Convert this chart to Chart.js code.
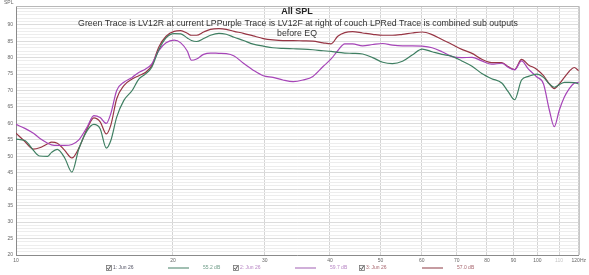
<!DOCTYPE html>
<html>
<head>
<meta charset="utf-8">
<script src="https://cdn.jsdelivr.net/npm/chart.js@4/dist/chart.umd.min.js"></script>
<style>html,body{margin:0;padding:0;background:#fff;}canvas{display:block;}</style>
</head>
<body>
<canvas id="c" width="589" height="275"></canvas>
<script>
// ---- data ----
const freqs = [10.0,10.4,10.8,11.1,11.5,11.7,12.0,12.4,12.8,13.2,13.7,14.1,14.5,14.9,15.2,15.6,16.1,16.7,17.2,17.7,18.2,18.8,19.4,20.1,20.7,21.3,21.7,22.2,22.9,23.6,24.5,25.3,26.2,27.3,28.5,29.8,31.1,32.5,34.0,35.5,37.1,38.8,40.2,41.4,42.7,44.2,46.2,48.3,50.5,52.7,55.1,57.5,60.1,62.8,65.6,68.6,71.6,74.9,78.2,81.7,85.4,88.0,90.4,93.2,96.1,99.6,102.7,105.4,107.7,110.1,112.6,115.0,117.6,120.0];
const greenDb = [55.2,54.8,51.8,50.1,50.0,51.2,52.1,49.5,45.2,52.3,57.9,59.7,58.4,52.5,54.8,61.9,67,70,73.5,75,77,82.5,86,87.3,87.2,86,85.2,84.9,85.8,86.8,87.4,87.1,86.2,85.2,84.1,83.5,83,82.8,82.7,82.6,82.4,82.1,81.9,81.6,81.4,81.3,81.1,80.0,78.6,78.2,78.9,80.8,82.6,81.8,81.0,80.4,79.0,77.4,75.2,73.6,72.3,69.5,67.2,73.2,74.3,75.0,74.0,72.0,71.0,71.8,72.5,72.5,72.4,72.0];
const purpleDb = [59.7,58.5,57,55.5,54,53.5,53.3,53.3,53.6,55,59,62.4,61.8,60,63,70,72.5,74,75.5,76.5,78,82.2,84.5,85.3,84.5,82,79.2,79.6,81,81.4,81.3,81.2,80.5,78.3,76.2,74.5,74.0,73.2,72.7,73.2,74.3,77.3,79.6,82.1,84.2,84.2,83.6,84.0,84.3,83.8,83.6,83.6,83.5,83.0,81.8,80.3,80.0,80.1,79.0,78.0,78.3,77.0,76.3,79.0,76.5,74.2,72,64,59,64,68,70.5,72.2,72.5];
const redDb = [57.0,54.5,52.2,52.6,53.8,54.3,54,51.8,49.5,52.5,58.5,61.7,60.5,56.8,59.5,67.5,71.5,73.5,74.5,75.5,77.5,83.3,86.5,88,88.2,87.4,86.8,86.8,87.8,88.6,88.8,88.6,88,87.4,86.6,85.8,85.4,85.2,85.2,85.1,85.0,84.5,84.2,86.5,87.6,87.9,87.5,87.1,86.8,86.8,87.1,87.5,87.8,87.0,85.5,84,82.5,81.3,79.5,78.5,78.5,77.2,76.4,79.5,77.8,76.5,74.5,72.0,70.6,72.0,74.0,75.8,77.0,76.0];
const xTicks = [10,20,30,40,50,60,70,80,90,100,110,120];
const yTicks = [];
for (let v = 20; v <= 95; v++) yTicks.push(v);
const yLabelStep = 5;
const seriesNames = ['1: Jun 26','2: Jun 26','3: Jun 26'];
const seriesValues = ['55.2 dB','59.7 dB','57.0 dB'];
const titleText = 'All SPL';
const subtitleLines = ['Green Trace is LV12R at current LPPurple Trace is LV12F at right of couch LPRed Trace is combined sub outputs','before EQ'];

// ---- styles ----
const FONT = "'Liberation Sans', Arial, sans-serif";
Chart.defaults.font.family = FONT;
const colors = ['#3f7f62','#a645b8','#973544'];
const legendColors = ['#6f9c88','#b784c4','#a8666f'];

const toPts = arr => freqs.map((f,i)=>({x:f,y:arr[i]}));

const overlay = {
  id:'overlay',
  beforeDatasetsDraw(chart){
    const {ctx, chartArea:a} = chart;
    ctx.save();
    ctx.strokeStyle = '#b8b8b8';
    ctx.lineWidth = 1;
    ctx.beginPath();
    ctx.moveTo(a.left, a.top+0.5); ctx.lineTo(a.right+0.5, a.top+0.5); ctx.lineTo(a.right+0.5, a.bottom);
    ctx.stroke();
    ctx.restore();
  },
  afterDatasetsDraw(chart){
    const {ctx} = chart;
    ctx.save();
    ctx.textAlign = 'center';
    ctx.textBaseline = 'middle';
    ctx.fillStyle = '#222';
    ctx.font = 'bold 9px ' + FONT;
    ctx.fillText(titleText, 297, 12);
    ctx.fillStyle = '#333';
    ctx.font = '8.75px ' + FONT;
    ctx.fillText(subtitleLines[0], 298, 24);
    ctx.fillText(subtitleLines[1], 297, 34);
    ctx.restore();
  },
  afterDraw(chart){
    const {ctx} = chart;
    ctx.save();
    ctx.font = '5px ' + FONT;
    ctx.fillStyle = '#666';
    ctx.textBaseline = 'middle';
    ctx.textAlign = 'left';
    ctx.fillText('SPL', 4, 3);
    const boxX = [106, 233, 359];
    const lineX = [[168,189],[295,316],[422,443]];
    const valX = [203, 330, 457];
    const y = 268;
    for (let i = 0; i < 3; i++) {
      ctx.strokeStyle = '#777';
      ctx.lineWidth = 0.8;
      ctx.fillStyle = '#f4f4f4';
      ctx.fillRect(boxX[i], y-2.5, 5, 5);
      ctx.strokeRect(boxX[i]+0.5, y-2.5, 5, 5);
      ctx.strokeStyle = '#333';
      ctx.beginPath();
      ctx.moveTo(boxX[i]+1.3, y); ctx.lineTo(boxX[i]+2.5, y+1.5); ctx.lineTo(boxX[i]+4.6, y-2);
      ctx.stroke();
      ctx.fillStyle = i===0 ? '#556' : legendColors[i];
      ctx.fillText(seriesNames[i], boxX[i]+7, y);
      ctx.strokeStyle = legendColors[i];
      ctx.lineWidth = 1.3;
      ctx.beginPath(); ctx.moveTo(lineX[i][0], y); ctx.lineTo(lineX[i][1], y); ctx.stroke();
      ctx.fillStyle = legendColors[i];
      ctx.fillText(seriesValues[i], valX[i], y);
    }
    ctx.restore();
  }
};

new Chart(document.getElementById('c'), {
  type:'line',
  data:{
    datasets:[
      {label:seriesNames[0], data:toPts(greenDb), borderColor:colors[0]},
      {label:seriesNames[1], data:toPts(purpleDb), borderColor:colors[1]},
      {label:seriesNames[2], data:toPts(redDb), borderColor:colors[2]}
    ]
  },
  options:{
    responsive:false,
    animation:false,
    layout:{padding:{top:5,right:8,left:0,bottom:0}},
    elements:{
      point:{radius:0},
      line:{borderWidth:1.2, cubicInterpolationMode:'monotone', fill:false}
    },
    plugins:{legend:{display:false}, title:{display:false}, tooltip:{enabled:false}},
    scales:{
      x:{
        type:'logarithmic', min:10, max:120,
        afterBuildTicks(s){ s.ticks = xTicks.map(v=>({value:v})); },
        afterFit(s){ s.height = 20; },
        ticks:{
          autoSkip:false, maxRotation:0, padding:3,
          font:{size:5},
          color:(c)=> c.tick && c.tick.value===110 ? '#c4c4c4' : '#666',
          callback:(v)=> v===120 ? '120Hz' : String(v)
        },
        grid:{
          drawTicks:false,
          color:(c)=> c.tick && c.tick.value===10 ? 'rgba(0,0,0,0)' : '#d4d4d4',
          lineWidth:1
        },
        border:{color:'#8a8a8a', width:1}
      },
      y:{
        min:20, max:95.7,
        afterBuildTicks(s){ s.ticks = yTicks.map(v=>({value:v})); },
        afterFit(s){ s.width = 16; },
        ticks:{
          autoSkip:false, padding:3,
          font:{size:5},
          color:'#666',
          callback:(v)=> (v % yLabelStep === 0 && v <= 90) ? String(v) : ''
        },
        grid:{
          drawTicks:false,
          color:(c)=> c.tick && c.tick.value % 5 === 0 ? '#dcdcdc' : '#ededed',
          lineWidth:1
        },
        border:{color:'#8a8a8a', width:1}
      }
    }
  },
  plugins:[overlay]
});
</script>
</body>
</html>
